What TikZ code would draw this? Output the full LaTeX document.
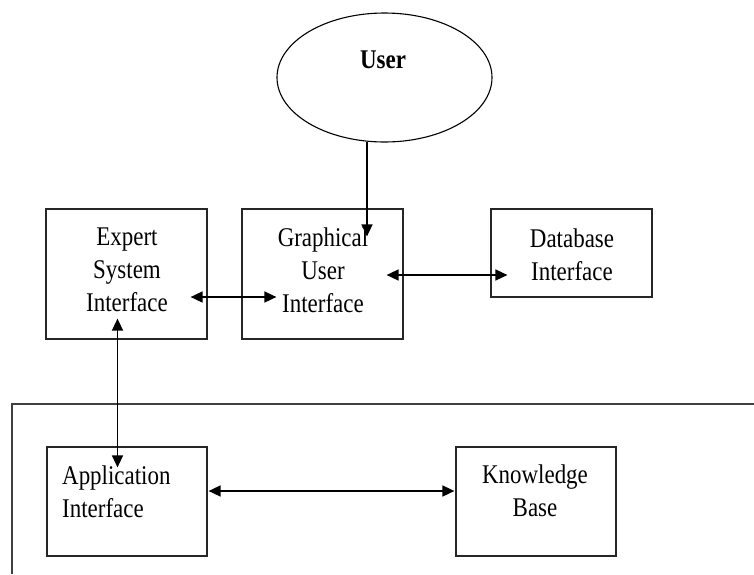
\documentclass[tikz,border=0pt]{standalone}
\usepackage{fontspec}
\setmainfont{Liberation Serif}
\newfontfamily\tallfont[FakeStretch=0.85]{Liberation Serif}
\usetikzlibrary{shapes.geometric,arrows.meta,calc}
\begin{document}
\begin{tikzpicture}[x=1pt,y=-1pt,
  box/.style={draw=black!85,line width=1.2pt,inner sep=0pt,minimum width=161pt},
  txt/.style={font=\tallfont\fontsize{27}{33}\selectfont,inner sep=0pt,align=center},
  conn/.style={line width=1.6pt,{Triangle[length=12pt,width=11pt]}-{Triangle[length=12pt,width=11pt]}},
  conn1/.style={line width=1.4pt,-{Triangle[length=12pt,width=11pt]}}]
\useasboundingbox (0,0) rectangle (754,574);
% user ellipse
\node[draw,ellipse,line width=1.1pt,minimum width=215pt,minimum height=129pt,inner sep=0pt] (usr) at (384.5,77.5) {};
\node[txt,font=\tallfont\fontsize{27}{33}\selectfont\bfseries] (usrt) at (383,60) {User};
% boxes
\node[box,minimum height=130pt] (ex) at (126.5,274) {};
\node[txt] (ext) at (127,270) {Expert\\System\\Interface};
\node[box,minimum height=130pt] (gui) at (322.5,274) {};
\node[txt] (guit) at (323,270) {Graphical\\User\\Interface};
\node[box,minimum height=88pt] (db) at (571.5,253) {};
\node[txt] (dbt) at (572,254.5) {Database\\Interface};
\node[box,minimum width=160pt,minimum height=109pt] (app) at (127,501.5) {};
\node[txt,align=left,anchor=west] (appt) at (62,491.5) {Application\\Interface};
\node[box,minimum width=160pt,minimum height=109pt] (kb) at (536,501.5) {};
\node[txt] (kbt) at (535,491) {Knowledge\\Base};
% frame
\draw[line width=1.5pt,black!75] (12,574) -- (12,404) -- (754,404);
% connectors
\draw[conn1] ($(usr.south)+(-17.5,-0.6)$) -- ($(gui.north)+(44.5,28)$);
\draw[conn] ($(ex.east)+(-17,23)$) -- ($(gui.west)+(35,23)$);
\draw[conn] ($(gui.east)+(-17,1)$) -- ($(db.west)+(17,22)$);
\draw[conn1,{Triangle[length=12pt,width=11pt]}-{Triangle[length=12pt,width=11pt]}] ($(ex.south)+(-9,-21)$) -- ($(app.north)+(-9.5,21)$);
\draw[conn] ($(app.east)+(1,-10.5)$) -- ($(kb.west)+(-1,-10.5)$);
\end{tikzpicture}
\end{document}
